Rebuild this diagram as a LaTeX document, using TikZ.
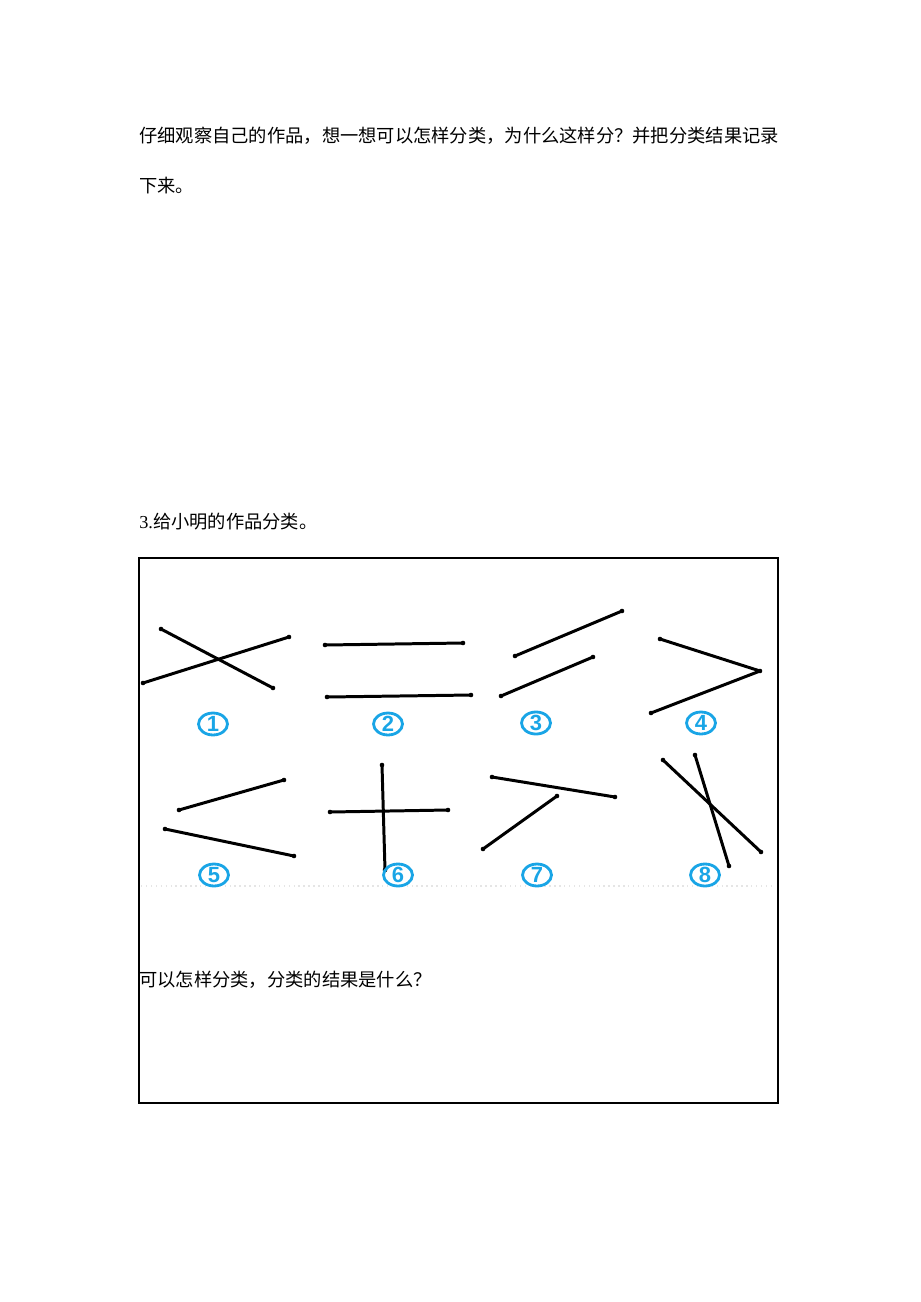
\documentclass[tikz,border=0pt]{standalone}
\usepackage{fontspec}
\setmainfont{Liberation Serif}
\newfontfamily\cjk{Noto Sans CJK SC}
\newfontfamily\numfont{Liberation Sans}
\usepackage{tikz}
\usetikzlibrary{shapes.geometric}
\definecolor{labelblue}{RGB}{25,165,230}
\tikzstyle{stroke}=[draw,line width=1.7pt,line cap=round]
\tikzstyle{endpt}=[circle,fill=black,inner sep=0pt,minimum size=2.6pt]
\tikzstyle{numlabel}=[ellipse,draw=labelblue,line width=1.6pt,text=labelblue,
  minimum width=16.5pt,minimum height=12.5pt,inner sep=0pt,font=\numfont\bfseries\fontsize{12.5}{12.5}\selectfont]
\tikzstyle{textline}=[anchor=west,inner sep=0pt,font=\cjk\fontsize{10.4}{12}\selectfont]

\begin{document}
\begin{tikzpicture}[x=0.02cm,y=-0.02cm]
    \useasboundingbox (0,0) rectangle (920,1302);
    % Text above and below the frame
    \node[textline] (line1) at (139,136) {仔细观察自己的作品，想一想可以怎样分类，为什么这样分？并把分类结果记录};
    \node[textline] (line2) at (139,186) {下来。};
    \node[textline] (task) at (139,522) {{\rmfamily 3.}给小明的作品分类。};
    \node[textline] (question) at (139,980) {可以怎样分类，分类的结果是什么？};
    % The frame
    \draw[line width=1.1pt] (139,558) rectangle (778,1103);
    \draw[black!10,dotted,line width=0.8pt] (141,886) -- (772,886);
    % First we place the end points of the sticks
    \foreach \pos/\name in {{(161,629)/a1}, {(273,688)/a2}, {(143,683)/a3}, {(289,637)/a4},
        {(325,645)/b1}, {(463,643)/b2}, {(327,697)/b3}, {(471,695)/b4},
        {(515,656)/c1}, {(622,611)/c2}, {(501,696)/c3}, {(593,657)/c4},
        {(660,639)/d1}, {(760,671)/d2}, {(651,713)/d3},
        {(179,810)/e1}, {(284,780)/e2}, {(165,829)/e3}, {(294,856)/e4},
        {(382,765)/f1}, {(385,870)/f2}, {(330,812)/f3}, {(448,810)/f4},
        {(492,777)/g1}, {(615,797)/g2}, {(557,796)/g3}, {(483,849)/g4},
        {(663,760)/h1}, {(761,852)/h2}, {(695,755)/h3}, {(729,866)/h4}}
        \node[endpt] (\name) at \pos {};
    % Connect end points with sticks
    \foreach \source/ \dest in {a1/a2, a3/a4, b1/b2, b3/b4, c1/c2, c3/c4, d1/d2, d3/d2,
        e1/e2, e3/e4, f1/f2, f3/f4, g1/g2, g3/g4, h1/h2, h3/h4}
        \path[stroke] (\source.center) -- (\dest.center);
    % Circled numbers
    \foreach \pos/\name in {{(213,724)/1}, {(388,724)/2}, {(536,723)/3}, {(701,723)/4},
        {(214,875)/5}, {(398,875)/6}, {(537,875)/7}, {(705,875)/8}}
        \node[numlabel] (n\name) at \pos {\name};
\end{tikzpicture}
\end{document}
